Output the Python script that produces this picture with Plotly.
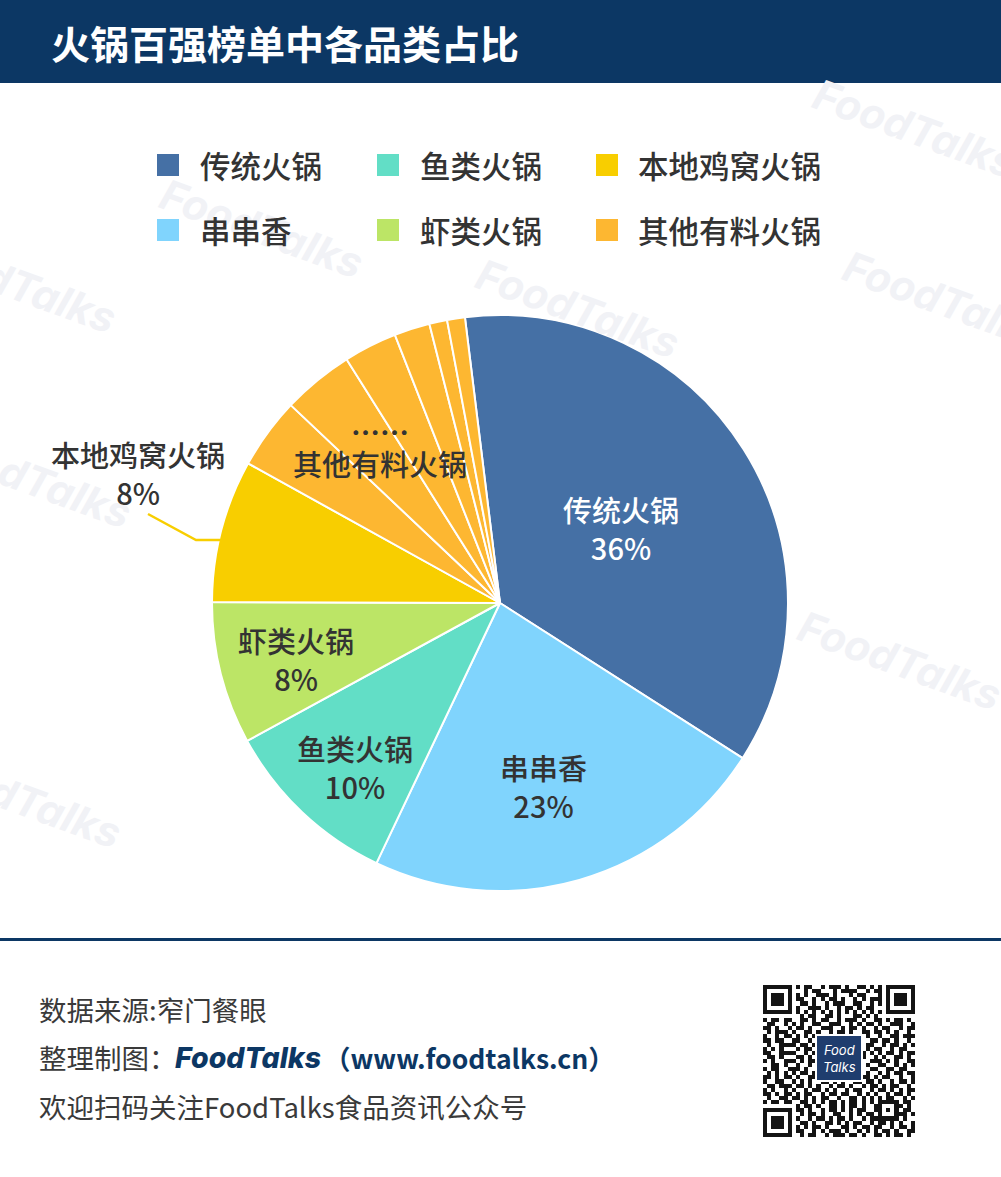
import plotly.graph_objects as go

# ---------------- data ----------------
CATEGORIES = ["传统火锅", "串串香", "鱼类火锅", "虾类火锅", "本地鸡窝火锅", "其他有料火锅"]
SHARES = [36, 23, 10, 8, 8, 15]                 # percent, as labelled
OTHER_PARTS = [4, 4, 3, 2, 1, 1]                 # the small slices making up 其他有料火锅
COLORS = ["#4570A5", "#80D4FD", "#62DEC6", "#BCE566", "#F8CE00", "#FDB731"]

TITLE = "火锅百强榜单中各品类占比"
SOURCE = "数据来源:窄门餐眼"
MAKER = "整理制图："
BRAND = "FoodTalks"
SITE = "（www.foodtalks.cn）"
FOLLOW = "欢迎扫码关注FoodTalks食品资讯公众号"

# ---------------- styles / positions ----------------
W, H = 1001, 1177
NAVY = "#0C3764"
TXT = "#333333"
FONT = "Noto Sans CJK SC"
CX, CY, R = 500, 603, 288
LABEL_POS = {"传统火锅": (621, 528), "串串香": (543, 786), "鱼类火锅": (355, 767),
             "虾类火锅": (296, 659), "本地鸡窝火锅": (138, 473)}
LABEL_COLOR = {"传统火锅": "white"}
LEG_SQ_X = [157, 377, 596]
LEG_TXT_X = [200, 420, 638]
LEG_Y = [165, 230]

# pie slices built from data
pie_labels, pie_values, pie_colors = [], [], []
for cat, val, col in zip(CATEGORIES[:-1], SHARES[:-1], COLORS[:-1]):
    pie_labels.append(cat); pie_values.append(val); pie_colors.append(col)
for i, v in enumerate(OTHER_PARTS):
    pie_labels.append(f"{CATEGORIES[-1]}{i+1}"); pie_values.append(v); pie_colors.append(COLORS[-1])

fig = go.Figure()

# QR code (decoration) cells
QR_TOP = [
    "#.##..#.###.#..##.#.#",
    "..#.##...#.####..#.##",
    "#.#..###.#...#.##...#",
    "##..#.#.##.#..#.#.###",
    ".##.#..#.###..##..#.#",
    "#..###.#..#.##.#.##..",
    "#.#.#.#.#.#.#.#.#.#.#",
]
QR_ROW7 = ".#.##..##.#...##.#.#."
QR_MID = [
    ("#.##.#", "..##.#.##..#.###.#..##.#.##.#."),
    (".##..#", "#.#..##..###..#.#.##.#..###..#"),
    ("##.#..", ".##.#..###..#.##.#..#.##..#.##"),
    (".#.###", "#..##.#..#.##.#..##.##.#.#..#."),
    ("#..#.#", ".#.#.##.#.#..#.##.#..#..##.###"),
    ("##.##.", "##..#...##.#.##.#..##.##.#..#."),
    (".#..##", "#.##.#.#..##.#..#.##..#.##.#.#"),
    ("#.#.#.", ".#.##..##.#.##.#..#.##..#.##.."),
    ("##..##", "#..#.##.#..#..##.#.#.#.##.#.##"),
    (".##.#.", ".##.#..#.##.#.#.##..#.#..##.#."),
    ("#.#..#", "#.#.##.#...##.#.#..###.#.#..##"),
    ("..##.#", ".#..#.##.##..##.#.#..##..#.#.#"),
    ("#.##..", "##.#..#.##.#.#.##..##..##.##.."),
    (".#.#.#", "#.##.#..#.##.#..#.#..#.#.##.##"),
    ("##.#.#", ".#..##.#.#..##.#.##.#.##..#..#"),
    ("#..##.", "#.#.#..##.#.#..##.##.#..#.##.#"),
    (".##.##", ".##.#.#..#.##.#..#.##.#.##..#."),
    ("#.#..#", "#..#.##.#.#..#.##..#.##.#.#.##"),
    ("##.#.#", ".#.##..#.##.##..#.#.#..#.##.#."),
    (".#..##", "##.#.#.##..#..##.#.#.#.##..#.#"),
    ("#.##.#", "..##.#.#.##.#.##.#.#.##.#..##."),
]
QR_ROW29 = "#.##.#..##.#.##.#..##.#.##.#."
QR_BOT = [
    "##.#..#.##.#.#.##..#.##.#.##.",
    ".#.##.#..##..#.#.##.#.#..##.#",
    "#..#.##.#.##.#..#.##.#.##.#..",
    ".##.#..##.#.#.##..#.##.#.#..#",
    "#.#.##.#...##.#.##.##..#.##.#",
    "##..#.#.###.#..#.#.#.##.#..##",
    ".#.##..#.###.##.#..##.#.##.#.",
]
FINDER = ["#######", "#.....#", "#.###.#", "#.###.#", "#.###.#", "#.....#", "#######"]
N = 37
rows = []
for r in range(7):
    rows.append(FINDER[r] + "." + QR_TOP[r] + "." + FINDER[r])
rows.append("........" + QR_ROW7 + "........")
for r, (lft, rgt) in enumerate(QR_MID):
    rr = r + 8
    rows.append(lft + ("#" if rr % 2 == 0 else ".") + rgt)
rows.append("........" + QR_ROW29)
for r in range(7):
    rows.append(FINDER[r] + "." + QR_BOT[r])
rows = [(row + "." * N)[:N] for row in rows]
ALIGN = ["#####", "#...#", "#.#.#", "#...#", "#####"]
grid = [list(row) for row in rows]
for i in range(5):
    for j in range(5):
        grid[28 + i][28 + j] = ALIGN[i][j]
z = [[1 if c == "#" else 0 for c in row] for row in grid]
QX, QY, QS = 763, 985, 152 / N
fig.add_trace(go.Heatmap(z=z, x0=QX + QS / 2, dx=QS, y0=QY + QS / 2, dy=QS,
                         colorscale=[[0, "#ffffff"], [1, "#141414"]], zmin=0, zmax=1,
                         showscale=False, hoverinfo="skip", xaxis="x", yaxis="y"))

fig.add_trace(go.Pie(
    labels=pie_labels, values=pie_values, sort=False, direction="clockwise",
    rotation=-7, textinfo="none", hoverinfo="label+value",
    marker=dict(colors=pie_colors, line=dict(color="white", width=2)),
    domain=dict(x=[(CX - R) / W, (CX + R) / W], y=[1 - (CY + R) / H, 1 - (CY - R) / H]),
    showlegend=False,
))

shapes = []
annotations = []

# watermarks
WM = [(262, 228), (578, 308), (945, 300), (915, 128), (15, 283), (30, 478), (900, 660), (20, 798)]
for (x, y) in WM:
    annotations.append(dict(x=x, y=y, xref="x", yref="y", text=BRAND, showarrow=False,
                            textangle=20, font=dict(family="Inter", size=42, color="#F1F2F6",
                                                    weight=700, style="italic")))

# banner
shapes.append(dict(type="rect", xref="x", yref="y", x0=0, x1=W, y0=0, y1=83,
                   fillcolor=NAVY, line=dict(width=0), layer="below"))
annotations.append(dict(x=49, y=42, xref="x", yref="y", xanchor="left", yanchor="middle",
                        text=TITLE, showarrow=False,
                        font=dict(family=FONT, size=39, color="white", weight=700)))

# legend (column-major, 2 rows)
for k, (cat, col) in enumerate(zip(CATEGORIES, COLORS)):
    c, r = k // 2, k % 2
    y = LEG_Y[r]
    shapes.append(dict(type="rect", xref="x", yref="y", x0=LEG_SQ_X[c], x1=LEG_SQ_X[c] + 22,
                       y0=y - 11, y1=y + 11, fillcolor=col, line=dict(width=0)))
    annotations.append(dict(x=LEG_TXT_X[c] - 2, y=y, xref="x", yref="y", xanchor="left",
                            yanchor="middle", text=cat, showarrow=False,
                            font=dict(family=FONT, size=30.5, color=TXT, weight=500)))

# slice labels
for cat, val in zip(CATEGORIES[:-1], SHARES[:-1]):
    x, y = LABEL_POS[cat]
    annotations.append(dict(x=x, y=y, xref="x", yref="y", text=f"{cat}<br>{val}%",
                            showarrow=False, align="center",
                            font=dict(family=FONT, size=29, color=LABEL_COLOR.get(cat, TXT), weight=500)))
annotations.append(dict(x=380, y=431, xref="x", yref="y", text="……", showarrow=False,
                        font=dict(family=FONT, size=29, color=TXT, weight=700)))
annotations.append(dict(x=380, y=463, xref="x", yref="y", text=CATEGORIES[-1], showarrow=False,
                        font=dict(family=FONT, size=29, color=TXT, weight=500)))
# leader line for 本地鸡窝火锅
shapes.append(dict(type="path", xref="x", yref="y", path="M148,514 L196,540 L220,540",
                   line=dict(color=COLORS[4], width=2.5)))

# footer
shapes.append(dict(type="line", xref="x", yref="y", x0=0, x1=W, y0=939.5, y1=939.5,
                   line=dict(color=NAVY, width=3)))
annotations.append(dict(x=37, y=1009, xref="x", yref="y", xanchor="left", text=SOURCE,
                        showarrow=False, font=dict(family=FONT, size=27.5, color="#3A3A3A")))
annotations.append(dict(x=37, y=1057, xref="x", yref="y", xanchor="left", text=MAKER,
                        showarrow=False, font=dict(family=FONT, size=27.5, color="#3A3A3A")))
annotations.append(dict(x=173, y=1057, xref="x", yref="y", xanchor="left", text=BRAND,
                        showarrow=False, font=dict(family="Inter", size=28.5, color=NAVY,
                                                   weight=800, style="italic")))
annotations.append(dict(x=322, y=1057, xref="x", yref="y", xanchor="left", text=SITE,
                        showarrow=False, font=dict(family=FONT, size=26.5, color=NAVY, weight=700)))
annotations.append(dict(x=37, y=1106, xref="x", yref="y", xanchor="left", text=FOLLOW,
                        showarrow=False, font=dict(family=FONT, size=27.5, color="#3A3A3A")))

# QR centre logo
shapes.append(dict(type="rect", xref="x", yref="y", x0=816, x1=862, y0=1035, y1=1081,
                   fillcolor="#1F3D6E", line=dict(color="white", width=2)))
annotations.append(dict(x=839, y=1058, xref="x", yref="y", text="<i>Food<br>Talks</i>",
                        showarrow=False, font=dict(family="Inter", size=13, color="white")))

fig.update_layout(
    width=W, height=H, margin=dict(l=0, r=0, t=0, b=0),
    paper_bgcolor="white", plot_bgcolor="rgba(0,0,0,0)",
    xaxis=dict(range=[0, W], domain=[0, 1], visible=False, fixedrange=True),
    yaxis=dict(range=[H, 0], domain=[0, 1], visible=False, fixedrange=True),
    shapes=shapes, annotations=annotations, showlegend=False,
)
fig.write_html("out.html")
